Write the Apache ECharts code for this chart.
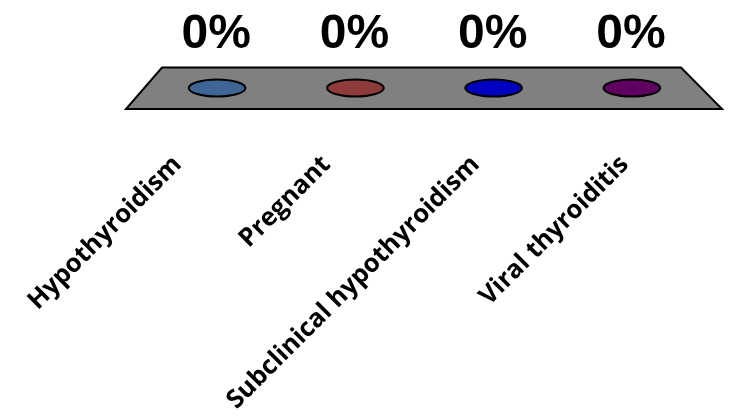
<!DOCTYPE html>
<html>
<head>
<meta charset="utf-8">
<script src="https://cdn.jsdelivr.net/npm/echarts@6/dist/echarts.min.js"></script>
<style>html,body{margin:0;padding:0;background:#fff;}#c{width:730px;height:416px;}</style>
</head>
<body>
<div id="c"></div>
<script>
const categories = ['Hypothyroidism', 'Pregnant', 'Subclinical hypothyroidism', 'Viral thyroiditis'];
const values = [0, 0, 0, 0];
const colors = ['#3F6596', '#8F3B3B', '#0000C0', '#600060'];

const chart = echarts.init(document.getElementById('c'), null, {renderer: 'canvas'});

const option = {
  backgroundColor: '#ffffff',
  animation: false,
  grid: [
    {left: 148, right: 29, top: 20, bottom: 328},
    {left: 103, right: 31, top: 100, bottom: 259}
  ],
  xAxis: [
    {type: 'category', gridIndex: 0, data: categories, show: false},
    {type: 'category', gridIndex: 1, data: categories,
     axisLine: {show: false}, axisTick: {show: false}, splitLine: {show: false},
     axisLabel: {rotate: 45, margin: 8, interval: 0, color: '#000',
       fontFamily: 'Open Sans', fontWeight: 'bold', fontSize: 25.5}}
  ],
  yAxis: [
    {type: 'value', gridIndex: 0, min: 0, max: 100, show: false},
    {type: 'value', gridIndex: 1, min: 0, max: 100, show: false}
  ],
  series: [
    {
      type: 'custom', name: 'floor', xAxisIndex: 0, yAxisIndex: 0, z: 1,
      data: [[0, 0]],
      renderItem: function (params, api) {
        const cs = params.coordSys;
        const y0 = api.coord([0, 0])[1];
        const yb = y0 - 20.5, yf = y0 + 21;
        return {
          type: 'polygon',
          shape: {points: [
            [cs.x + 14, yb], [cs.x + cs.width - 20, yb],
            [cs.x + cs.width + 21, yf], [cs.x - 22, yf]
          ]},
          style: {fill: '#808080', stroke: '#000', lineWidth: 2}
        };
      }
    },
    {
      type: 'custom', name: 'values', xAxisIndex: 0, yAxisIndex: 0, z: 2,
      data: values.map((v, i) => [i, v]),
      encode: {x: 0, y: 1},
      renderItem: function (params, api) {
        const i = api.value(0), v = api.value(1);
        const top = api.coord([i, v]);
        const base = api.coord([i, 0]);
        const w = api.size([1, 0])[0];
        const rx = w * 0.205, ry = 8.5;
        const col = colors[params.dataIndex];
        const children = [];
        if (base[1] - top[1] > 0.5) {
          children.push({type: 'rect', shape: {x: top[0] - rx, y: top[1], width: rx * 2, height: base[1] - top[1]},
            style: {fill: col, stroke: '#000', lineWidth: 1.5}});
          children.push({type: 'ellipse', shape: {cx: base[0], cy: base[1], rx: rx, ry: ry},
            style: {fill: col, stroke: '#000', lineWidth: 1.5}});
        }
        children.push({type: 'ellipse', shape: {cx: top[0], cy: top[1], rx: rx, ry: ry},
          style: {fill: col, stroke: '#000', lineWidth: 2}});
        children.push({type: 'text', x: top[0] - 1, y: top[1] - 53,
          style: {text: v + '%', font: 'bold 48px "Liberation Sans", Arial, sans-serif',
            align: 'center', verticalAlign: 'middle', fill: '#000'}});
        return {type: 'group', children: children};
      }
    }
  ]
};
chart.setOption(option);
</script>
</body>
</html>
